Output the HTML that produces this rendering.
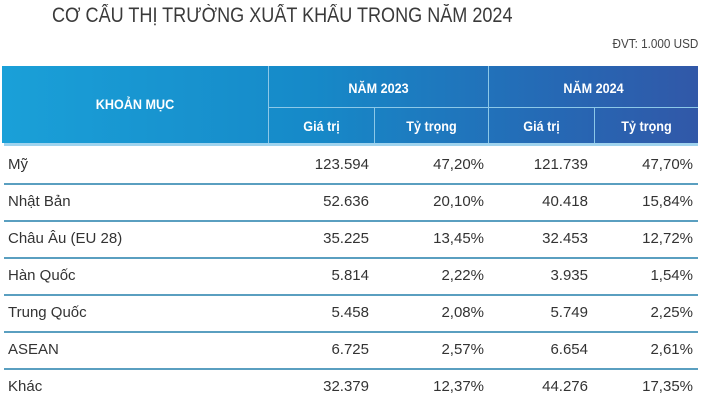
<!DOCTYPE html>
<html><head><meta charset="utf-8"><style>
body{margin:0;width:704px;height:405px;background:#fff;overflow:hidden;position:relative;font-family:"Liberation Sans",sans-serif;color:#333}
.a{position:absolute;white-space:nowrap}
.title{left:52px;top:4px;font-size:21px;color:#3a3a3a;transform:scaleX(0.86);transform-origin:left top}
.unit{right:6px;top:36px;font-size:13px;color:#444;transform:scaleX(0.9);transform-origin:right top}
.hdr{position:absolute;left:2px;top:66px;width:696px;height:77px;background:linear-gradient(90deg,#1aa0d8 0%,#1689c8 45%,#2668b4 80%,#3158a8 100%)}
.hl{position:absolute;background:#8cc8e8}
.ht{position:absolute;color:#fff;font-weight:bold;font-size:14px;text-align:center;transform:scaleX(0.9)}
.row{position:absolute;left:0;width:704px;height:37px;font-size:15px}
.row span{position:absolute;top:9px}
.line{position:absolute;left:4px;width:694px;height:2px;background:#5a9fc0}
</style></head><body>
<div class="a title">CƠ CẤU THỊ TRƯỜNG XUẤT KHẨU TRONG NĂM 2024</div>
<div class="a unit">ĐVT: 1.000 USD</div>
<div class="hdr">
 <div class="hl" style="left:266px;top:0;width:1px;height:77px"></div>
 <div class="hl" style="left:486px;top:0;width:1px;height:77px"></div>
 <div class="hl" style="left:372px;top:41px;width:1px;height:36px"></div>
 <div class="hl" style="left:592px;top:41px;width:1px;height:36px"></div>
 <div class="hl" style="left:267px;top:41px;width:429px;height:1px"></div>
 <div class="ht" style="left:0;width:266px;top:30px">KHOẢN MỤC</div>
 <div class="ht" style="left:267px;width:219px;top:14px">NĂM 2023</div>
 <div class="ht" style="left:487px;width:209px;top:14px">NĂM 2024</div>
 <div class="ht" style="left:267px;width:105px;top:52px">Giá trị</div>
 <div class="ht" style="left:373px;width:113px;top:52px">Tỷ trọng</div>
 <div class="ht" style="left:487px;width:105px;top:52px">Giá trị</div>
 <div class="ht" style="left:593px;width:103px;top:52px">Tỷ trọng</div>
</div>
<div class="line" style="top:143px;height:3px;background:#9fd3ee"></div>
<div id="rows"></div>
<script>
const markets=["Mỹ","Nhật Bản","Châu Âu (EU 28)","Hàn Quốc","Trung Quốc","ASEAN","Khác"];
const value2023=["123.594","52.636","35.225","5.814","5.458","6.725","32.379"];
const share2023=["47,20%","20,10%","13,45%","2,22%","2,08%","2,57%","12,37%"];
const value2024=["121.739","40.418","32.453","3.935","5.749","6.654","44.276"];
const share2024=["47,70%","15,84%","12,72%","1,54%","2,25%","2,61%","17,35%"];
const cont=document.getElementById('rows');
markets.forEach((m,i)=>{
  const r=document.createElement('div');
  r.className='row';
  r.style.top=(147+i*37)+'px';
  
  
  const cells=[[m,'left:8px'],[value2023[i],'right:335px'],[share2023[i],'right:220px'],[value2024[i],'right:116px'],[share2024[i],'right:11px']];
  const names=['market-name','value-2023','share-2023','value-2024','share-2024'];
  cells.forEach((c,j)=>{
    const s=document.createElement('span');
    s.textContent=c[0];
    s.style.cssText=c[1];
    
    
    r.appendChild(s);
  });
  cont.appendChild(r);
  if(i<markets.length-1){
    const l=document.createElement('div');
    l.className='line';
    l.style.top=(183+i*37)+'px';
    
    
    cont.appendChild(l);
  }
});
</script>
</body></html>
